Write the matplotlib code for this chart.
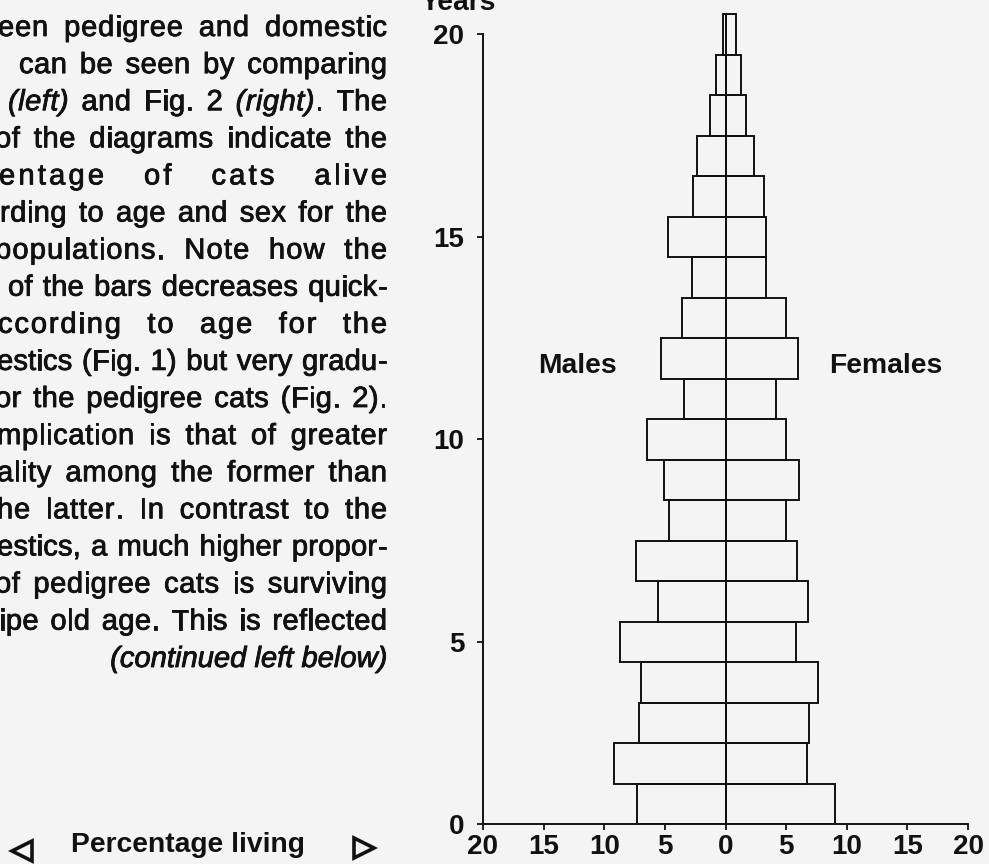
import matplotlib
matplotlib.use("Agg")
import matplotlib.pyplot as plt
from matplotlib.font_manager import FontProperties, findfont
from matplotlib.ft2font import FT2Font
from matplotlib.lines import Line2D
import matplotlib.patheffects as pe

# ---------------------------------------------------------------- data
ages = list(range(1, 21))                      # age class (years), bar centres
males = [7.3, 9.2, 7.1, 7.0, 8.7, 5.6, 7.4, 4.7, 5.1, 6.5,
         3.4, 5.3, 3.6, 2.8, 4.75, 2.7, 2.35, 1.3, 0.8, 0.2]
females = [9.0, 6.75, 6.9, 7.6, 5.8, 6.8, 5.9, 5.0, 6.1, 5.0,
           4.2, 6.0, 5.0, 3.3, 3.3, 3.2, 2.35, 1.65, 1.3, 0.85]

x_ticks = [-20, -15, -10, -5, 0, 5, 10, 15, 20]
x_tick_labels = ["20", "15", "10", "5", "0", "5", "10", "15", "20"]
y_ticks = [0.5, 5, 10, 15, 20]
y_tick_labels = ["0", "5", "10", "15", "20"]

# running text of the column beside the figure: (segments, left edge px)
body_lines = [
    ([("een pedigree and domestic", False)], -2),
    ([("can be seen by comparing", False)], 19),
    ([("(left)", True), (" and Fig. 2 ", False), ("(right)", True), (". The", False)], 8),
    ([("of the diagrams indicate the", False)], -5),
    ([("entage of cats alive", False)], -1),
    ([("rding to age and sex for the", False)], 0),
    ([("populations. Note how the", False)], -5),
    ([("of the bars decreases quick-", False)], 8),
    ([("ccording to age for the", False)], -2),
    ([("estics (Fig. 1) but very gradu-", False)], -3),
    ([("or the pedigree cats (Fig. 2).", False)], -5),
    ([("mplication is that of greater", False)], -3),
    ([("ality among the former than", False)], -3),
    ([("he latter. In contrast to the", False)], -3),
    ([("estics, a much higher propor-", False)], -3),
    ([("of pedigree cats is surviving", False)], -5),
    ([("ipe old age. This is reflected", False)], -1),
]
continued_note = "(continued left below)"

# ---------------------------------------------------------------- setup
W, H, DPI = 989, 864, 100
PAPER = "#f4f4f4"
INK = "#111111"
FAMILY = "Liberation Sans"

plt.rcParams["font.family"] = [FAMILY, "DejaVu Sans"]

fig = plt.figure(figsize=(W / DPI, H / DPI), dpi=DPI, facecolor=PAPER)


def fx(px):
    return px / W


def fy(py):
    return 1 - py / H


heavy = [pe.withStroke(linewidth=0.6, foreground=INK)]

body_size = 21
prop_reg = FontProperties(family=FAMILY, size=body_size)
prop_it = FontProperties(family=FAMILY, style="italic", size=body_size)

_font_cache = {}


def advance(ch, prop):
    key = (findfont(prop), prop.get_size_in_points())
    if key not in _font_cache:
        f = FT2Font(key[0])
        f.set_size(key[1], DPI)
        _font_cache[key] = f
    g = _font_cache[key].load_char(ord(ch))
    return g.linearHoriAdvance / 65536


SPACE_WEIGHT = 8


def set_line(segments, left, right, baseline):
    """Justify one line between left and right by spreading letter and word gaps."""
    chars = []
    for text, italic in segments:
        p = prop_it if italic else prop_reg
        for ch in text:
            chars.append((ch, p, advance(ch, p)))
    natural = sum(a for _, _, a in chars)
    n_sp = sum(1 for c, _, _ in chars if c == " ")
    extra = (right - left) - natural
    unit = extra / ((len(chars) - 1) + SPACE_WEIGHT * n_sp)
    x = left
    for ch, p, a in chars:
        if ch != " ":
            fig.text(fx(x), fy(baseline), ch, fontproperties=p, color=INK,
                     ha="left", va="baseline", path_effects=heavy)
        x += a + unit + (SPACE_WEIGHT * unit if ch == " " else 0)


RIGHT = 387
for i, (segs, left) in enumerate(body_lines):
    set_line(segs, left, RIGHT, 36 + 37.1 * i)

note_w = sum(advance(c, prop_it) for c in continued_note)
fig.text(fx(RIGHT - note_w), fy(667), continued_note, fontproperties=prop_it,
         color=INK, ha="left", va="baseline", path_effects=heavy)

# axis caption with open arrowheads
bold_lab = FontProperties(family=FAMILY, weight="bold", size=20.3)
fig.text(fx(71), fy(852), "Percentage living", fontproperties=bold_lab,
         color=INK, ha="left", va="baseline")
for px, py, mk in [(22, 851, "<"), (364, 848, ">")]:
    fig.add_artist(Line2D([fx(px)], [fy(py)], transform=fig.transFigure,
                          marker=mk, markersize=15, markerfacecolor="none",
                          markeredgecolor=INK, markeredgewidth=2.6,
                          linestyle="none"))

# ---------------------------------------------------------------- pyramid
ax_left, ax_right = 483, 968
ax_bottom, ax_top = 824, 10
ax = fig.add_axes([fx(ax_left), fy(ax_bottom), (ax_right - ax_left) / W,
                   (ax_bottom - ax_top) / H])
ax.set_facecolor("none")

neg_males = [-m for m in males]
ax.barh(ages, neg_males, height=1.0, left=0, facecolor="none",
        edgecolor=INK, linewidth=1.4)
ax.barh(ages, females, height=1.0, left=0, facecolor="none",
        edgecolor=INK, linewidth=1.4)

ax.set_xlim(-20, 20)
ax.set_ylim(0.5, 20.6)

for side in ("top", "right"):
    ax.spines[side].set_visible(False)
for side in ("left", "bottom"):
    ax.spines[side].set_linewidth(1.4)
    ax.spines[side].set_color(INK)
ax.spines["left"].set_bounds(0.5, 20)

tick_font = dict(family=FAMILY, weight="bold", size=20)
ax.set_xticks(x_ticks)
ax.set_xticklabels(x_tick_labels, fontdict=tick_font)
ax.set_yticks(y_ticks)
ax.set_yticklabels(y_tick_labels, fontdict=tick_font)
ax.tick_params(axis="both", direction="out", length=4.5, width=1.3,
               color=INK, labelcolor=INK)
ax.tick_params(axis="x", pad=3)
ax.tick_params(axis="y", pad=9)

fig.text(fx(421), fy(10), "Years", fontproperties=bold_lab, color=INK,
         ha="left", va="baseline")
fig.text(fx(538), fy(373), "Males", fontproperties=bold_lab, color=INK,
         ha="left", va="baseline")
fig.text(fx(829), fy(373), "Females", fontproperties=bold_lab, color=INK,
         ha="left", va="baseline")

fig.savefig("out.png", dpi=DPI, facecolor=PAPER)
